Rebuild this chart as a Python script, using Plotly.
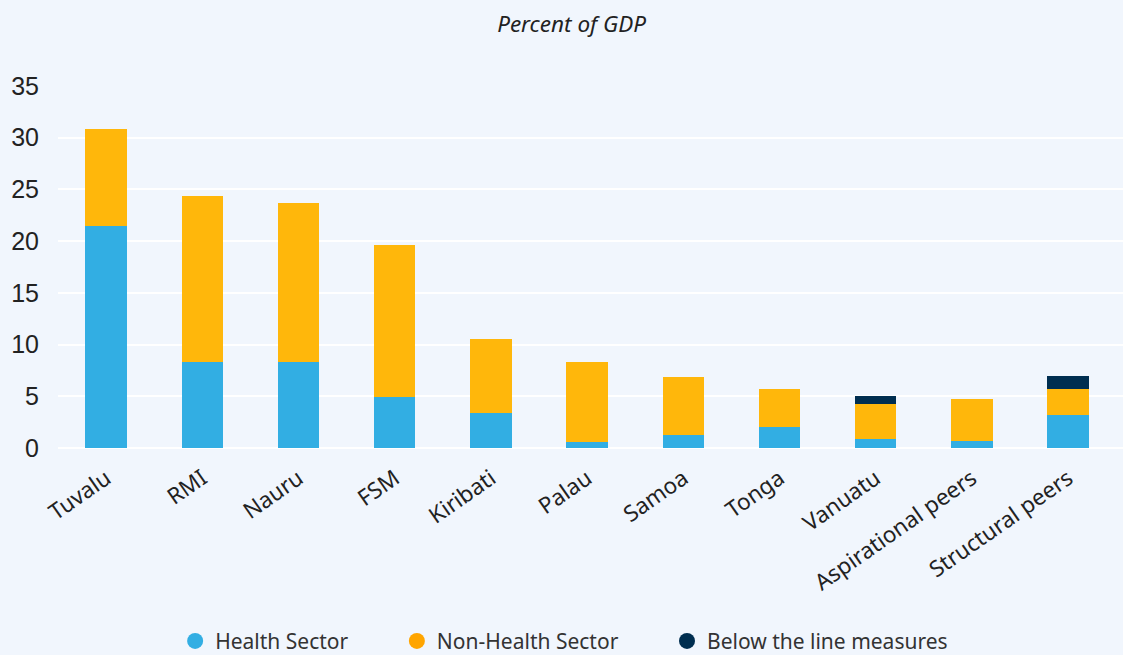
import plotly.graph_objects as go

categories = ["Tuvalu", "RMI", "Nauru", "FSM", "Kiribati", "Palau", "Samoa",
              "Tonga", "Vanuatu", "Aspirational peers", "Structural peers"]
health = [21.5, 8.3, 8.3, 4.9, 3.4, 0.6, 1.3, 2.0, 0.9, 0.7, 3.2]
non_health = [9.3, 16.1, 15.4, 14.7, 7.1, 7.7, 5.6, 3.7, 3.4, 4.05, 2.5]
below_line = [0, 0, 0, 0, 0, 0, 0, 0, 0.7, 0, 1.3]

series = [
    ("Health Sector", health, "#32AEE3", "#32AEE3"),
    ("Non-Health Sector", non_health, "#FFB70B", "#FFA500"),
    ("Below the line measures", below_line, "#002E50", "#002E50"),
]

fig = go.Figure()
for name, vals, col, lcol in series:
    fig.add_trace(go.Bar(x=categories, y=vals, name=name, marker_color=col,
                         marker_line_width=0, showlegend=False))
pad = "\u00a0" * 8
for name, vals, col, lcol in series:
    fig.add_trace(go.Scatter(x=[None], y=[None], mode="markers", name=name + pad,
                             marker=dict(symbol="circle", size=16, color=lcol)))

bg = "#F1F6FD"
fig.update_layout(
    width=1123, height=655,
    barmode="stack", bargap=0.57,
    paper_bgcolor=bg, plot_bgcolor=bg,
    margin=dict(l=58, r=0, t=86, b=207, autoexpand=False),
    title=dict(text="<i>Percent of GDP</i>", x=0.509, xanchor="center", y=0.963,
               yanchor="middle", font=dict(family="Noto Sans", size=22.5, color="#222222")),
    font=dict(family="Noto Sans", color="#222222"),
    legend=dict(orientation="h", x=0.11, xanchor="left", yref="container", y=0.021,
                yanchor="middle", traceorder="normal",
                font=dict(family="Noto Sans", size=21, color="#333333"),
                itemwidth=30, bgcolor="rgba(0,0,0,0)"),
    xaxis=dict(range=[-0.5, 10.57], tickangle=-35, showgrid=False, zeroline=False,
               tickfont=dict(family="Noto Sans", size=22.5, color="#222222"), ticks="",
               ticklabelstandoff=12, automargin=False),
    yaxis=dict(range=[0, 35], dtick=5, showgrid=True, gridcolor="#FFFFFF", gridwidth=1.5,
               zeroline=True, zerolinecolor="#FFFFFF", zerolinewidth=1.5,
               tickfont=dict(family="Liberation Sans", size=25, color="#222222"),
               ticklabelstandoff=18, automargin=False),
)

fig.write_html("out.html", config={"displayModeBar": False},
               post_script="document.body.style.margin='0';")
